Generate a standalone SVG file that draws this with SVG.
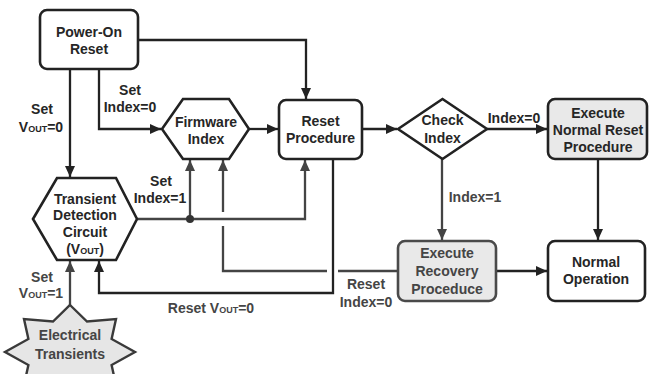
<svg xmlns="http://www.w3.org/2000/svg" width="649" height="374" viewBox="0 0 649 374">
<defs>
<marker id="ah" markerWidth="12" markerHeight="10" refX="11" refY="5" orient="auto" markerUnits="userSpaceOnUse">
<path d="M0,0 L11,5 L0,10 Z" fill="#222"/>
</marker>
<marker id="ahg" markerWidth="12" markerHeight="10" refX="11" refY="5" orient="auto" markerUnits="userSpaceOnUse">
<path d="M0,0 L11,5 L0,10 Z" fill="#444"/>
</marker>
<style>
text{font-family:"Liberation Sans",Arial,sans-serif;font-weight:bold;font-size:14px;fill:#262626;text-anchor:middle}
.g{fill:#454545}
.sub{font-size:9px}
.box{fill:#fff;stroke:#222;stroke-width:2.6}
.gray{fill:#e9e9e9;stroke:#222;stroke-width:2.6}
.grayb{fill:#e9e9e9;stroke:#4a4a4a;stroke-width:2.6}
.c{fill:none;stroke:#222;stroke-width:2.3}
.cg{fill:none;stroke:#444;stroke-width:2.3}
</style>
</defs>
<rect width="649" height="374" fill="#fff"/>

<g id="connectors">
<path class="c" d="M138,40 H306 V99" marker-end="url(#ah)"/>
<path class="c" d="M70,69 V177" marker-end="url(#ah)"/>
<path class="c" d="M99,69 V129 H161" marker-end="url(#ah)"/>
<path class="c" d="M249,129 H278" marker-end="url(#ah)"/>
<path class="c" d="M362,129 H397" marker-end="url(#ah)"/>
<path class="c" d="M487,129 H547" marker-end="url(#ah)"/>
<path class="cg" d="M442,159 V240" marker-end="url(#ahg)"/>
<path class="c" d="M598,159 V240" marker-end="url(#ah)"/>
<path class="c" d="M496,271 H547" marker-end="url(#ah)"/>
<path class="cg" d="M137,219 H305 V160" marker-end="url(#ahg)"/>
<path class="cg" d="M190,219 V160" marker-end="url(#ahg)"/>
<circle cx="190" cy="219" r="4" fill="#333"/>
<path class="cg" d="M397,271 H338 M327,271 H223 V226 M223,212 V160" marker-end="url(#ahg)"/>
<path class="c" d="M333,159 V293 H99 V261" marker-end="url(#ah)"/>
<path class="cg" d="M70,306 V261" marker-end="url(#ahg)"/>
</g>

<g id="power-on-reset">
<rect class="box" x="40" y="10" width="98" height="59" rx="7"/>
<text x="89" y="37">Power-On</text>
<text x="89" y="54">Reset</text>
</g>

<g id="firmware-index">
<polygon class="box" points="162,129 183,99 229,99 249,129 229,159 183,159"/>
<text x="206" y="127">Firmware</text>
<text x="206" y="144">Index</text>
</g>

<g id="reset-procedure">
<rect class="box" x="279" y="100" width="83" height="59" rx="7"/>
<text x="320.5" y="126">Reset</text>
<text x="320.5" y="143">Procedure</text>
</g>

<g id="check-index">
<polygon class="box" points="398,129 442.5,99 487,129 442.5,159"/>
<text x="442.5" y="125">Check</text>
<text x="442.5" y="143">Index</text>
</g>

<g id="execute-normal-reset">
<rect class="gray" x="548" y="99" width="99" height="60" rx="7"/>
<text x="598" y="118">Execute</text>
<text x="598" y="135">Normal Reset</text>
<text x="598" y="152">Procedure</text>
</g>

<g id="execute-recovery">
<rect class="grayb" x="398" y="241" width="98" height="60" rx="7"/>
<text class="g" x="447" y="258">Execute</text>
<text class="g" x="447" y="276">Recovery</text>
<text class="g" x="447" y="294">Proceduce</text>
</g>

<g id="normal-operation">
<rect class="box" x="548" y="241" width="97" height="60" rx="7"/>
<text x="596" y="267">Normal</text>
<text x="596" y="284">Operation</text>
</g>

<g id="transient-detection">
<polygon class="box" points="33,219 57,178 116,178 137,219 116,260 57,260"/>
<text x="85" y="204">Transient</text>
<text x="85" y="220">Detection</text>
<text x="85" y="237">Circuit</text>
<text x="85" y="254">(V<tspan class="sub">OUT</tspan>)</text>
</g>

<g id="electrical-transients">
<polygon fill="#e6e6e6" stroke="#3a3a3a" stroke-width="2.4" points="70,305 87,321.5 116,319 111.6,339 135,352 111.6,365 116,385 87,382.5 70,399 53,382.5 24,385 28.4,365 5,352 28.4,339 24,319 53,321.5"/>
<text class="g" x="70" y="340">Electrical</text>
<text class="g" x="70" y="359">Transients</text>
</g>

<g id="labels">
<text x="42" y="114">Set</text>
<text x="41" y="132">V<tspan class="sub">OUT</tspan>=0</text>
<text x="130" y="95">Set</text>
<text x="130" y="112">Index=0</text>
<text x="161" y="186">Set</text>
<text x="160" y="203">Index=1</text>
<text x="514" y="123">Index=0</text>
<text class="g" x="475" y="202">Index=1</text>
<text class="g" x="366" y="289">Reset</text>
<text class="g" x="366" y="307">Index=0</text>
<text class="g" x="42" y="282">Set</text>
<text class="g" x="41" y="298">V<tspan class="sub">OUT</tspan>=1</text>
<text class="g" x="211" y="313">Reset V<tspan class="sub">OUT</tspan>=0</text>
</g>
</svg>
